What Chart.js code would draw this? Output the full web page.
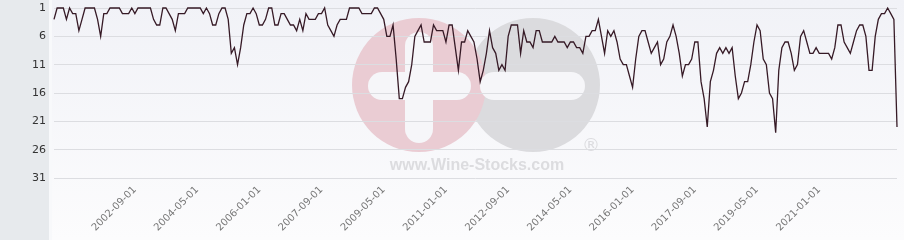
<!doctype html>
<html lang="en">
  <head>
    <title>Rank history</title>
    <style>
      html, body { margin: 0; padding: 0; background: #f6f7fa; }
      #wrap { width: 904px; height: 240px; position: relative; }
    </style>
  </head>
  <body>
    <div id="wrap"><canvas id="rank"></canvas></div>
  <script src="https://cdn.jsdelivr.net/npm/chart.js"></script>
<script>
  // monthly positions, first month 2000-07
  const startYear = 2000;
  const startMonth = 7;
  const ranks = [
    3,1,1,1,3,1,2,2,5,3,
    1,1,1,1,3,6,2,2,1,1,
    1,1,2,2,2,1,2,1,1,1,
    1,1,3,4,4,1,1,2,3,5,
    2,2,2,1,1,1,1,1,2,1,
    2,4,4,2,1,1,3,9,8,11,
    8,4,2,2,1,2,4,4,3,1,
    1,4,4,2,2,3,4,4,5,3,
    5,2,3,3,3,2,2,1,4,5,
    6,4,3,3,3,1,1,1,1,2,
    2,2,2,1,1,2,3,6,6,4,
    10,17,17,15,14,11,6,5,4,7,
    7,7,4,5,5,5,7,4,4,8,
    12,7,7,5,6,7,10,14,12,9,
    5,8,9,12,11,12,6,4,4,4,
    9,5,7,7,8,5,5,7,7,7,
    7,6,7,7,7,8,7,7,8,8,
    9,6,6,5,5,3,6,9,5,6,
    5,7,10,11,11,13,15,10,6,5,
    5,7,9,8,7,11,10,7,6,4,
    6,9,13,11,11,10,7,7,14,17,
    22,14,12,9,8,9,8,9,8,13,
    17,16,14,14,11,7,4,5,10,11,
    16,17,23,12,8,7,7,9,12,11,
    6,5,7,9,9,8,9,9,9,9,
    10,8,4,4,7,8,9,7,5,4,
    4,6,12,12,6,3,2,2,1,2,
    3,22
  ];
  const tickLabels = ['2002-09-01', '2004-05-01', '2006-01-01', '2007-09-01', '2009-05-01', '2011-01-01',
    '2012-09-01', '2014-05-01', '2016-01-01', '2017-09-01', '2019-05-01', '2021-01-01'];
  const yTicks = [1, 6, 11, 16, 21, 26, 31];

  let months = [];
  for (let i = 0; i < ranks.length; i++) {
    let m = startMonth - 1 + i;
    let y = startYear + Math.floor(m / 12);
    let mm = (m % 12) + 1;
    months.push(y + '-' + String(mm).padStart(2, '0') + '-01');
  }

  function bar(ctx, x, y, w, h) {
    let r = Math.min(w, h) / 2;
    ctx.beginPath();
    ctx.roundRect(x, y, w, h, r);
    ctx.fill();
  }

  // background, left strip and the faded logo behind the grid
  const backdrop = {
    id: 'backdrop',
    beforeDraw(chart) {
      const ctx = chart.ctx;
      const w = chart.width, h = chart.height;
      ctx.save();
      let g = ctx.createLinearGradient(0, 0, 0, h);
      g.addColorStop(0, '#f1f2f7');
      g.addColorStop(1, '#fcfcfd');
      ctx.fillStyle = g;
      ctx.fillRect(0, 0, w, h);
      ctx.fillStyle = '#e7eaed';
      ctx.fillRect(0, 0, 49, h);
      ctx.fillStyle = '#f8f9fb';
      ctx.fillRect(49, 0, 3, h);

      ctx.fillStyle = '#dbdbde';
      ctx.beginPath(); ctx.arc(533, 85, 67, 0, Math.PI * 2); ctx.fill();
      ctx.fillStyle = '#eaccd3';
      ctx.beginPath(); ctx.arc(419, 85, 67, 0, Math.PI * 2); ctx.fill();
      ctx.fillStyle = '#f6f6f9';
      bar(ctx, 405, 32, 28, 111);
      bar(ctx, 368, 72, 103, 28);
      bar(ctx, 480, 72, 105, 28);

      ctx.fillStyle = '#dcdcdf';
      ctx.font = 'bold 16px "Liberation Sans"';
      ctx.textAlign = 'center';
      ctx.textBaseline = 'middle';
      ctx.fillText('www.Wine-Stocks.com', 477, 166);
      ctx.font = '18px "DejaVu Sans"';
      ctx.fillText('\u00AE', 591, 146);
      ctx.restore();
    }
  };

  var rankChart = new Chart(document.getElementById('rank'), {
    type: 'line',
    data: {
      labels: months,
      datasets: [{
        data: ranks,
        borderColor: '#361a26',
        borderWidth: 1.3,
        pointRadius: 0,
        tension: 0,
        clip: 4
      }]
    },
    options: {
      responsive: true,
      maintainAspectRatio: false,
      animation: false,
      layout: { padding: { top: 8, right: 7, left: 0, bottom: 0 } },
      plugins: {
        legend: { display: false },
        tooltip: { enabled: false }
      },
      scales: {
        x: {
          grid: { display: false },
          border: { display: false },
          afterFit: (s) => { s.height = 62; },
          ticks: {
            autoSkip: false,
            minRotation: 45,
            maxRotation: 45,
            padding: -2,
            color: '#777',
            font: { family: 'DejaVu Sans', size: 10 },
            callback: function(val) {
              let l = this.getLabelForValue(val);
              return tickLabels.includes(l) ? l : '';
            }
          }
        },
        y: {
          reverse: true,
          min: 1,
          max: 31,
          afterFit: (s) => { s.width = 54; },
          afterBuildTicks: (s) => { s.ticks = yTicks.map(v => ({ value: v })); },
          border: { display: false },
          // invisible tick marks keep the labels off the plot without padding the top
          grid: { color: '#dcdde1', drawTicks: true, tickLength: 8, tickColor: 'rgba(0,0,0,0)' },
          ticks: {
            padding: 0,
            color: '#333',
            font: { family: 'DejaVu Sans', size: 11 }
          }
        }
      }
    },
    plugins: [backdrop]
  });
</script>
  </body>
</html>
